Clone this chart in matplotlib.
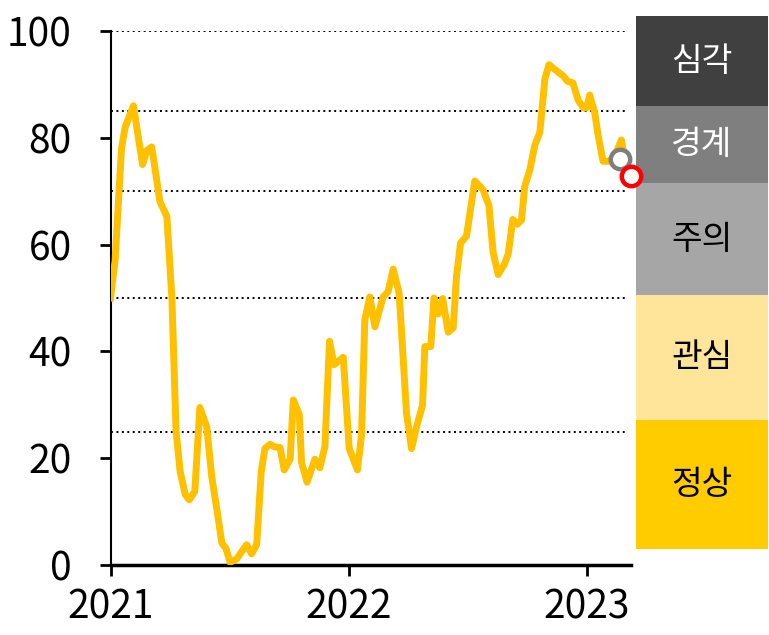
import matplotlib
matplotlib.use("Agg")
import matplotlib.pyplot as plt

plt.rcParams['font.family'] = ['Noto Sans CJK KR', 'DejaVu Sans']

# weeks since start of 2021, index values
weeks = [0.0, 1.0, 2.4, 3.2, 5.0, 7.0, 7.9, 9.0, 10.8, 12.3, 13.4, 14.3, 15.2, 16.3, 17.2,
         18.4, 19.5, 21.0, 22.1, 23.2, 24.3, 25.2, 26.1, 27.5, 29.7, 30.8, 31.9, 32.9, 33.7,
         34.8, 35.9, 37.0, 37.9, 39.2, 39.9, 41.2, 41.7, 42.9, 44.6, 45.7, 46.8, 47.8, 48.8,
         50.8, 52.1, 53.9, 54.8, 55.5, 56.6, 57.7, 59.5, 60.6, 61.7, 63.0, 64.6, 65.7, 66.8,
         68.1, 68.6, 69.9, 70.6, 71.5, 72.5, 73.7, 74.8, 75.5, 76.4, 77.7, 79.5, 81.3, 82.6,
         83.5, 84.6, 85.9, 86.8, 87.8, 88.8, 89.7, 90.4, 91.5, 92.6, 93.7, 94.8, 95.7, 97.7,
         98.8, 99.7, 100.9, 102.1, 103.2, 103.9, 104.6, 105.7, 106.4, 107.5, 109.0, 110.4,
         111.5, 112.0]
index_vals = [50, 57, 78, 82, 86, 75, 77.6, 78.3, 68, 65.3, 50, 25.2, 17.5, 13.2, 12.2,
              13.8, 29.5, 25.9, 16.5, 10.5, 4.1, 3.1, 0.5, 1.1, 3.8, 2.1, 3.8, 17.5, 21.8,
              22.6, 22.1, 22.0, 17.8, 19.8, 30.9, 28.2, 19.2, 15.5, 19.8, 18.2, 22.2, 41.9, 37.5,
              38.9, 21.8, 17.8, 24.5, 45.9, 50.2, 44.6, 50.2, 51.2, 55.4, 50.9, 28.5, 21.8, 25.9,
              29.9, 40.9, 40.9, 50.0, 47.0, 49.9, 43.6, 44.4, 53.9, 60.3, 61.6, 71.9, 70.3, 67.3,
              58.6, 54.4, 56.2, 58.2, 64.7, 63.8, 64.6, 70.9, 73.9, 78.6, 81.0, 91.0, 93.7, 92.3,
              91.6, 90.6, 90.3, 87.0, 85.6, 85.6, 88.0, 84.6, 80.6, 75.6, 75.6, 77.3,
              79.6, 77.0]

# latest readings (gray: previous, red: current)
prev_point = (111.2, 76.0)
curr_point = (113.7, 72.9)

year_ticks = [0, 52, 104]
year_labels = ['2021', '2022', '2023']
thresholds = [25, 50, 70, 85, 100]

levels = ['정상', '관심', '주의', '경계', '심각']
level_sizes = [129, 125, 112, 77, 90]
level_colors = ['#FFCC00', '#FFE599', '#A6A6A6', '#7F7F7F', '#404040']
level_text = ['black', 'black', 'black', 'white', 'white']

fig = plt.figure(figsize=(7.69, 6.35), dpi=100)

# level band on the right (drawn first so the markers sit on top)
bax = fig.add_axes([636 / 769, 86 / 635, 132 / 769, 533 / 635])
bottom = 0
for lab, size, col, tc in zip(levels, level_sizes, level_colors, level_text):
    bax.bar(0.5, size, width=1, bottom=bottom, color=col, edgecolor='none')
    bax.text(0.5, bottom + size / 2, lab, ha='center', va='center', fontsize=24, color=tc)
    bottom += size
bax.set_xlim(0, 1)
bax.set_ylim(0, sum(level_sizes))
bax.axis('off')

ax = fig.add_axes([110.5 / 769, 70 / 635, 520.5 / 769, 534 / 635])
ax.patch.set_alpha(0)

for t in thresholds:
    ax.plot([0, 112.3], [t, t], color='black', lw=1.4, ls=(0, (1, 1.8)), zorder=1)

ax.plot(weeks, index_vals, color='#FFC000', lw=5, solid_joinstyle='round', zorder=3)
ax.plot(*prev_point, 'o', ms=14, mfc='white', mec='#7F7F7F', mew=3.2, zorder=4, clip_on=False)
ax.plot(*curr_point, 'o', ms=14, mfc='white', mec='#FF0000', mew=3.2, zorder=5, clip_on=False)

ax.set_xlim(0, 113.6)
ax.set_ylim(0, 100)
ax.set_xticks(year_ticks)
ax.set_xticklabels(year_labels)
ax.set_yticks(range(0, 101, 20))
ax.spines['top'].set_visible(False)
ax.spines['right'].set_visible(False)
ax.spines['left'].set_linewidth(1.5)
ax.spines['bottom'].set_linewidth(2.5)
ax.tick_params(axis='both', length=8, width=2, labelsize=28, colors='black')
ax.tick_params(axis='x', pad=8)
ax.tick_params(axis='y', pad=20)

fig.savefig('out.png', dpi=100)
